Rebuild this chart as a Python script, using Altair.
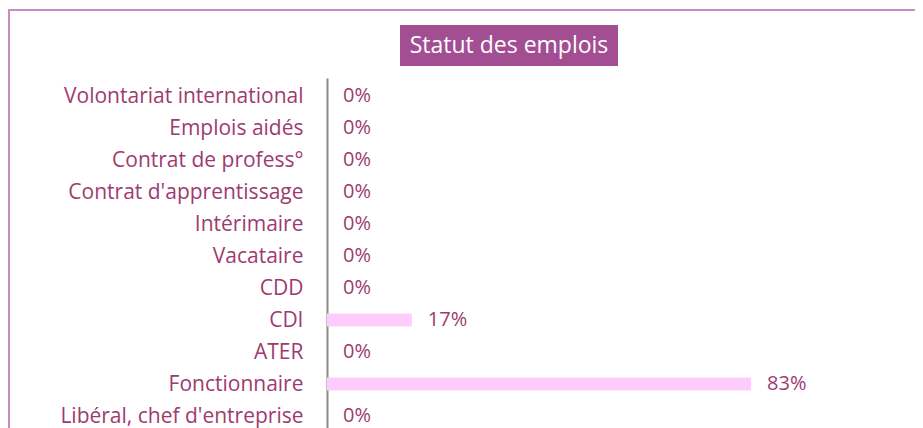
import json
import altair as alt
import pandas as pd

categories = [
    "Volontariat international",
    "Emplois aidés",
    "Contrat de profess°",
    "Contrat d'apprentissage",
    "Intérimaire",
    "Vacataire",
    "CDD",
    "CDI",
    "ATER",
    "Fonctionnaire",
    "Libéral, chef d'entreprise",
]
shares = [0, 0, 0, 0, 0, 0, 0, 0.1667, 0, 0.8333, 0]
title_text = "Statut des emplois"

df = pd.DataFrame({"cat": categories, "idx": list(range(len(categories))), "share": shares})

LABEL = "#9E3B6E"
FONT = "Open Sans"
W, H = 588, 360

label_expr = "[" + ",".join(json.dumps(c) for c in categories) + "][datum.value]"

y_scale = alt.Scale(domain=[-0.5625, 10.6875], reverse=True, nice=False, zero=False, padding=0)
x_scale = alt.Scale(domain=[0, 1.1556], nice=False, padding=0)

y_enc = alt.Y(
    "idx:Q",
    scale=y_scale,
    axis=alt.Axis(
        values=list(range(len(categories))),
        labelExpr=label_expr,
        ticks=False,
        tickSize=0,
        grid=False,
        domainColor="#888888",
        domainWidth=2,
        labelPadding=24,
        labelColor=LABEL,
        labelFont=FONT,
        labelFontSize=21,
        labelLimit=0,
        labelOverlap=False,
        labelAlign="right",
        labelBaseline="middle",
        title=None,
    ),
)
x_enc = alt.X("share:Q", scale=x_scale, axis=None)

base = alt.Chart(df)
bars = base.mark_bar(color="#FFCCFF", size=13, orient="horizontal").encode(x=x_enc, y=y_enc)
texts = base.mark_text(
    align="left", baseline="middle", dx=16, color=LABEL, font=FONT, fontSize=20
).encode(x=x_enc, y=y_enc, text=alt.Text("share:Q", format=".0%"))

deco = alt.Data(values=[{"t": title_text}])
frame = alt.Chart(deco).mark_rect(
    fillOpacity=0, stroke="#C98BC6", strokeWidth=2
).encode(x=alt.value(-318), x2=alt.value(800), y=alt.value(-68), y2=alt.value(600))
tbox = alt.Chart(deco).mark_rect(color="#A34E93").encode(
    x=alt.value(73), x2=alt.value(291), y=alt.value(-53), y2=alt.value(-12)
)
ttext = alt.Chart(deco).mark_text(
    color="white", font=FONT, fontSize=23, align="center", baseline="middle"
).encode(x=alt.value(182), y=alt.value(-32), text="t:N")

chart = (
    alt.layer(frame, tbox, ttext, bars, texts)
    .properties(
        width=W,
        height=H,
        padding={"left": 319, "top": 70, "right": 0, "bottom": 0},
        autosize=alt.AutoSizeParams(type="none"),
        background="white",
    )
    .configure_view(stroke=None)
)

chart.save("out.html", embed_options={"renderer": "svg", "actions": False})
